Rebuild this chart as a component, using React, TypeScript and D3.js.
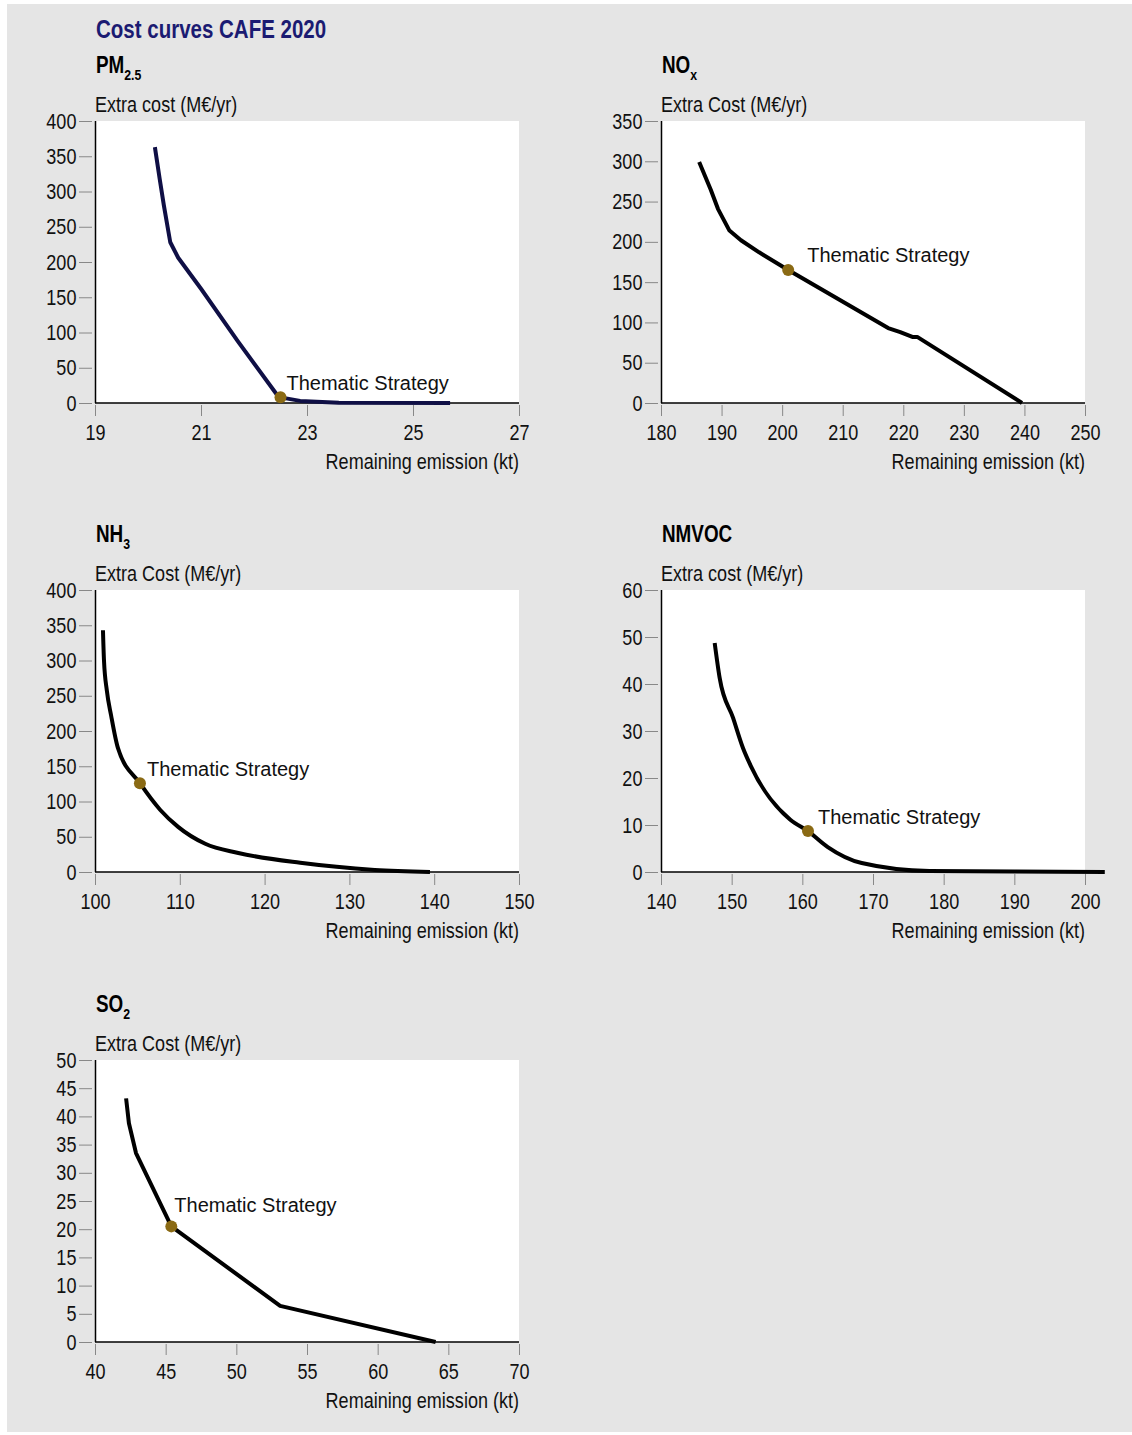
import React, { useEffect, useRef } from "react";
import * as d3 from "d3";

// Remaining emission (kt) and extra cost (M€/yr)
const pm25Emission = [20.13, 20.22, 20.3, 20.42, 20.57, 21.0, 21.7, 22.43, 22.5, 22.87, 23.6, 25.7];
const pm25Cost = [363, 318, 280, 228, 206, 162, 87, 12, 8, 3, 0.3, 0];

const noxEmission = [186.3, 188.2, 189.4, 191.3, 193.2, 196.2, 201, 217.5, 219.5, 221.5, 222.3, 239.6];
const noxCost = [299, 265, 241, 214, 202, 187, 165, 93, 88, 82, 82, 0];

const nh3Emission = [100.94, 101.06, 101.4, 101.9, 102.7, 105.3, 107.7, 109.8, 113, 116.9, 124.2, 133, 139.5];
const nh3Cost = [343, 300, 257, 222, 176, 126, 88, 64, 40, 27, 13, 3, 0];

const nmvocEmission = [147.6, 148.3, 150.2, 151.6, 152.7, 158.3, 160.8, 163.6, 168.4, 178, 190, 202.8];
const nmvocCost = [48.7, 41.3, 32.8, 26.4, 22.6, 11.1, 8.7, 5.3, 1.9, 0.2, 0.1, 0];

const so2Emission = [42.2, 42.4, 42.9, 45.4, 53.1, 64.1];
const so2Cost = [43.2, 38.8, 33.5, 20.5, 6.4, 0];

// Thematic Strategy points [emission, cost]
const tsPoints: [number, number][] = [
  [22.5, 8],
  [201, 165],
  [105.3, 126],
  [160.8, 8.7],
  [45.4, 20.5],
];

const pollutants = ["PM", "NO", "NH", "NMVOC", "SO"];
const subscripts = ["2.5", "x", "3", "", "2"];
const yTitles = [
  "Extra cost (M€/yr)",
  "Extra Cost (M€/yr)",
  "Extra Cost (M€/yr)",
  "Extra cost (M€/yr)",
  "Extra Cost (M€/yr)",
];
const xDomains: [number, number][] = [[19, 27], [180, 250], [100, 150], [140, 200], [40, 70]];
const yDomains: [number, number][] = [[0, 400], [0, 350], [0, 400], [0, 60], [0, 50]];
const xTicks = [
  [19, 21, 23, 25, 27],
  [180, 190, 200, 210, 220, 230, 240, 250],
  [100, 110, 120, 130, 140, 150],
  [140, 150, 160, 170, 180, 190, 200],
  [40, 45, 50, 55, 60, 65, 70],
];
const yTickStep = [50, 50, 50, 10, 5];

const seriesX = [pm25Emission, noxEmission, nh3Emission, nmvocEmission, so2Emission];
const seriesY = [pm25Cost, noxCost, nh3Cost, nmvocCost, so2Cost];
const lineColors = ["#0f0f45", "#000", "#000", "#000", "#000"];
const smooth = [false, false, true, true, false];

const SANS = "'Liberation Sans', Arial, sans-serif";
const NARROW = "scale(0.82,1)"; // no narrow font installed, squeeze Liberation Sans

// panel placement (left, top of plot area) and label offsets
const layout = [
  { left: 95, top: 121, labelDx: 6, labelDy: -7 },
  { left: 661, top: 121, labelDx: 19, labelDy: -8 },
  { left: 95, top: 590, labelDx: 7, labelDy: -7 },
  { left: 661, top: 590, labelDx: 10, labelDy: -7 },
  { left: 95, top: 1060, labelDx: 3, labelDy: -14 },
];
const plotW = 424;
const plotH = 282;

function Panel({ i }: { i: number }) {
  const gRef = useRef<SVGGElement>(null);
  const { left, top, labelDx, labelDy } = layout[i];

  useEffect(() => {
    const g = d3.select(gRef.current);
    g.selectAll("*").remove();

    const x = d3.scaleLinear().domain(xDomains[i]).range([0, plotW]);
    const y = d3.scaleLinear().domain(yDomains[i]).range([plotH, 0]);

    g.append("rect")
      .attr("width", plotW)
      .attr("height", plotH)
      .attr("fill", "#fff");

    // y axis ticks
    const yt = d3.range(yDomains[i][0], yDomains[i][1] + 0.001, yTickStep[i]);
    const yAxis = g
      .append("g")
      .attr("transform", "translate(-3,0)")
      .call(d3.axisLeft(y).tickValues(yt).tickSize(13).tickPadding(6).tickFormat(d3.format("d")));
    yAxis.select(".domain").remove();
    yAxis.selectAll("line").attr("stroke", "#888");
    yAxis
      .selectAll("text")
      .attr("transform", NARROW)
      .attr("font-family", SANS)
      .attr("font-size", 22)
      .attr("fill", "#111");

    // x axis ticks
    const xAxis = g
      .append("g")
      .attr("transform", `translate(0,${plotH + 2})`)
      .call(d3.axisBottom(x).tickValues(xTicks[i]).tickSize(11).tickPadding(8).tickFormat(d3.format("d")));
    xAxis.select(".domain").remove();
    xAxis.selectAll("line").attr("stroke", "#888");
    xAxis
      .selectAll("text")
      .attr("transform", NARROW)
      .attr("font-family", SANS)
      .attr("font-size", 22)
      .attr("fill", "#111");

    // axis lines
    g.append("line")
      .attr("x1", 0.5)
      .attr("x2", 0.5)
      .attr("y1", 0)
      .attr("y2", plotH)
      .attr("stroke", "#000")
      .attr("stroke-width", 1.5);
    g.append("line")
      .attr("x1", 0)
      .attr("x2", plotW)
      .attr("y1", plotH)
      .attr("y2", plotH)
      .attr("stroke", "#000")
      .attr("stroke-width", 1.5);

    // cost curve
    const pts: [number, number][] = seriesX[i].map((v, k) => [v, seriesY[i][k]]);
    const line = d3
      .line<[number, number]>()
      .x((d) => x(d[0]))
      .y((d) => y(d[1]))
      .curve(smooth[i] ? d3.curveMonotoneX : d3.curveLinear);
    g.append("path")
      .attr("d", line(pts))
      .attr("fill", "none")
      .attr("stroke", lineColors[i])
      .attr("stroke-width", 4)
      .attr("stroke-linejoin", "round");

    // thematic strategy point
    const [tx, ty] = tsPoints[i];
    g.append("circle")
      .attr("cx", x(tx))
      .attr("cy", y(ty))
      .attr("r", 6)
      .attr("fill", "#8a6a14");
    g.append("text")
      .attr("x", x(tx) + labelDx)
      .attr("y", y(ty) + labelDy)
      .attr("font-family", SANS)
      .attr("font-size", 20)
      .attr("fill", "#111")
      .text("Thematic Strategy");

    // titles
    const t = g
      .append("text")
      .attr("transform", `translate(1,-48) ${NARROW}`)
      .attr("font-family", SANS)
      .attr("font-weight", "bold")
      .attr("font-size", 23)
      .attr("fill", "#000");
    t.append("tspan").text(pollutants[i]);
    if (subscripts[i]) {
      t.append("tspan").attr("font-size", 15).attr("dy", 7).text(subscripts[i]);
    }
    g.append("text")
      .attr("transform", `translate(0,-9) ${NARROW}`)
      .attr("font-family", SANS)
      .attr("font-size", 22)
      .attr("fill", "#111")
      .text(yTitles[i]);
    g.append("text")
      .attr("transform", `translate(${plotW},${plotH + 66}) ${NARROW}`)
      .attr("text-anchor", "end")
      .attr("font-family", SANS)
      .attr("font-size", 22)
      .attr("fill", "#111")
      .text("Remaining emission (kt)");
  }, [i]);

  return <g ref={gRef} transform={`translate(${left},${top})`} />;
}

export default function App() {
  return (
    <svg
      width={1132}
      height={1435}
      style={{ position: "absolute", left: 0, top: 0, display: "block" }}
    >
      <rect width={1132} height={1435} fill="#fff" />
      <rect x={7} y={4} width={1125} height={1428} fill="#e5e5e5" />
      <text
        transform={`translate(96,38) ${NARROW}`}
        fontFamily={SANS}
        fontWeight="bold"
        fontSize={25}
        fill="#1b1b72"
      >
        Cost curves CAFE 2020
      </text>
      {pollutants.map((_, i) => (
        <Panel key={i} i={i} />
      ))}
    </svg>
  );
}
